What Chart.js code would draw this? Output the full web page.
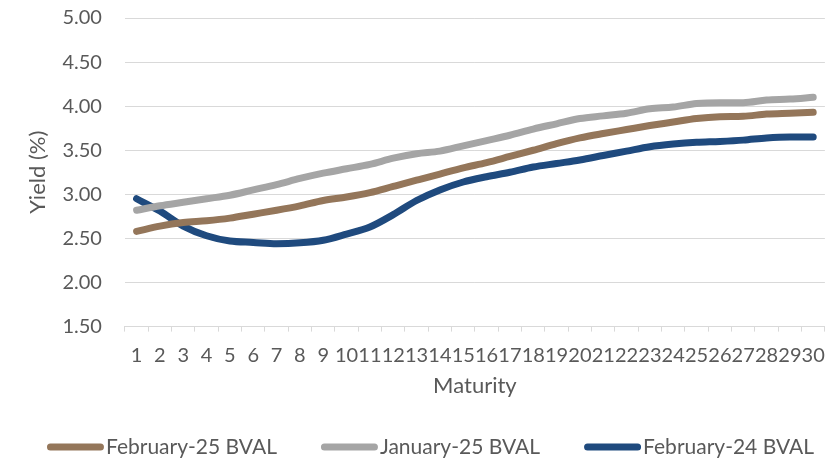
<!DOCTYPE html>
<html>
<head>
<meta charset="utf-8">
<script src="https://cdn.jsdelivr.net/npm/chart.js@4/dist/chart.umd.min.js"></script>
<style>
  html, body { margin: 0; padding: 0; background: #ffffff; }
  #wrap { width: 837px; height: 459px; position: relative; }
</style>
</head>
<body>
<div id="wrap"><canvas id="chart" width="837" height="459"></canvas></div>
<script>
// Maturity buckets in years
const maturities = [1, 2, 3, 4, 5, 6, 7, 8, 9, 10, 11, 12, 13, 14, 15,
                    16, 17, 18, 19, 20, 21, 22, 23, 24, 25, 26, 27, 28, 29, 30];

// BVAL yields (%)
const feb25 = [2.58, 2.64, 2.68, 2.70, 2.73, 2.775, 2.82, 2.87, 2.93, 2.97,
               3.02, 3.09, 3.16, 3.23, 3.30, 3.36, 3.43, 3.50, 3.575, 3.64,
               3.69, 3.735, 3.78, 3.82, 3.86, 3.88, 3.885, 3.91, 3.92, 3.93];
const jan25 = [2.82, 2.87, 2.91, 2.95, 2.99, 3.05, 3.11, 3.18, 3.24, 3.29,
               3.34, 3.41, 3.46, 3.49, 3.55, 3.61, 3.67, 3.74, 3.80, 3.86,
               3.89, 3.92, 3.97, 3.99, 4.03, 4.04, 4.04, 4.07, 4.08, 4.10];
const feb24 = [2.95, 2.81, 2.64, 2.53, 2.47, 2.455, 2.44, 2.45, 2.48, 2.55,
               2.63, 2.77, 2.93, 3.05, 3.14, 3.20, 3.25, 3.31, 3.35, 3.39,
               3.44, 3.49, 3.54, 3.57, 3.59, 3.60, 3.615, 3.64, 3.65, 3.65];

const seriesNames = ['February-25 BVAL', 'January-25 BVAL', 'February-24 BVAL'];
const seriesColors = ['#94765A', '#A5A5A5', '#1F4A7E'];

const TEXT = '#595959';
const GRID = '#D9D9D9';
const FONT = 'Lato, "Open Sans", sans-serif';

const mkSet = (i, data) => ({
  label: seriesNames[i],
  data: data,
  borderColor: seriesColors[i],
  backgroundColor: seriesColors[i],
  borderWidth: 7,
  borderCapStyle: 'round',
  borderJoinStyle: 'round',
  pointRadius: 0,
  pointHoverRadius: 0,
  cubicInterpolationMode: 'monotone',
  fill: false
});

// Legend row along the bottom: short thick line swatch followed closely by its label
const lineLegend = {
  id: 'lineLegend',
  afterDraw(chart) {
    const ctx = chart.ctx;
    const items = chart.data.datasets.map(ds => ({ text: ds.label, color: ds.borderColor }));
    const swatch = 57, gapText = 2, gapItem = 44, y = 447;
    ctx.save();
    ctx.font = '21px ' + FONT;
    const widths = items.map(it => swatch + gapText + ctx.measureText(it.text).width);
    const total = widths.reduce((a, b) => a + b, 0) + gapItem * (items.length - 1);
    let x = 430.5 - total / 2;
    items.forEach((it, i) => {
      ctx.strokeStyle = it.color;
      ctx.lineWidth = 7;
      ctx.lineCap = 'round';
      ctx.beginPath();
      ctx.moveTo(x + 3.5, y);
      ctx.lineTo(x + swatch - 3.5, y);
      ctx.stroke();
      ctx.fillStyle = TEXT;
      ctx.textBaseline = 'middle';
      ctx.textAlign = 'left';
      ctx.fillText(it.text, x + swatch + gapText, y);
      x += widths[i] + gapItem;
    });
    ctx.restore();
  }
};

new Chart(document.getElementById('chart'), {
  type: 'line',
  data: {
    labels: maturities,
    datasets: [mkSet(0, feb25), mkSet(1, jan25), mkSet(2, feb24)]
  },
  plugins: [lineLegend],
  options: {
    responsive: false,
    animation: false,
    devicePixelRatio: 1,
    layout: { padding: { left: 25, right: 11, top: 18, bottom: 60 } },
    plugins: {
      tooltip: { enabled: false },
      legend: { display: false }
    },
    scales: {
      x: {
        offset: true,
        grid: {
          offset: true,
          drawOnChartArea: false,
          drawTicks: true,
          tickLength: 5,
          color: GRID
        },
        border: { display: true, color: GRID },
        ticks: {
          color: TEXT,
          font: { family: FONT, size: 20 },
          autoSkip: false,
          maxRotation: 0,
          minRotation: 0,
          padding: 12
        },
        title: {
          display: true,
          text: 'Maturity',
          color: TEXT,
          font: { family: FONT, size: 22 },
          padding: { top: -7, bottom: 0 }
        }
      },
      y: {
        min: 1.5,
        max: 5.0,
        ticks: {
          stepSize: 0.5,
          color: TEXT,
          font: { family: FONT, size: 20 },
          padding: 3,
          callback: (v) => Number(v).toFixed(2)
        },
        grid: {
          color: GRID,
          lineWidth: 1,
          drawTicks: true,
          tickLength: 20,
          tickColor: 'rgba(0,0,0,0)'
        },
        border: { display: false },
        title: {
          display: true,
          text: 'Yield (%)',
          color: TEXT,
          font: { family: FONT, size: 22 },
          padding: { top: 0, bottom: 8 }
        }
      }
    }
  }
});
</script>
</body>
</html>
